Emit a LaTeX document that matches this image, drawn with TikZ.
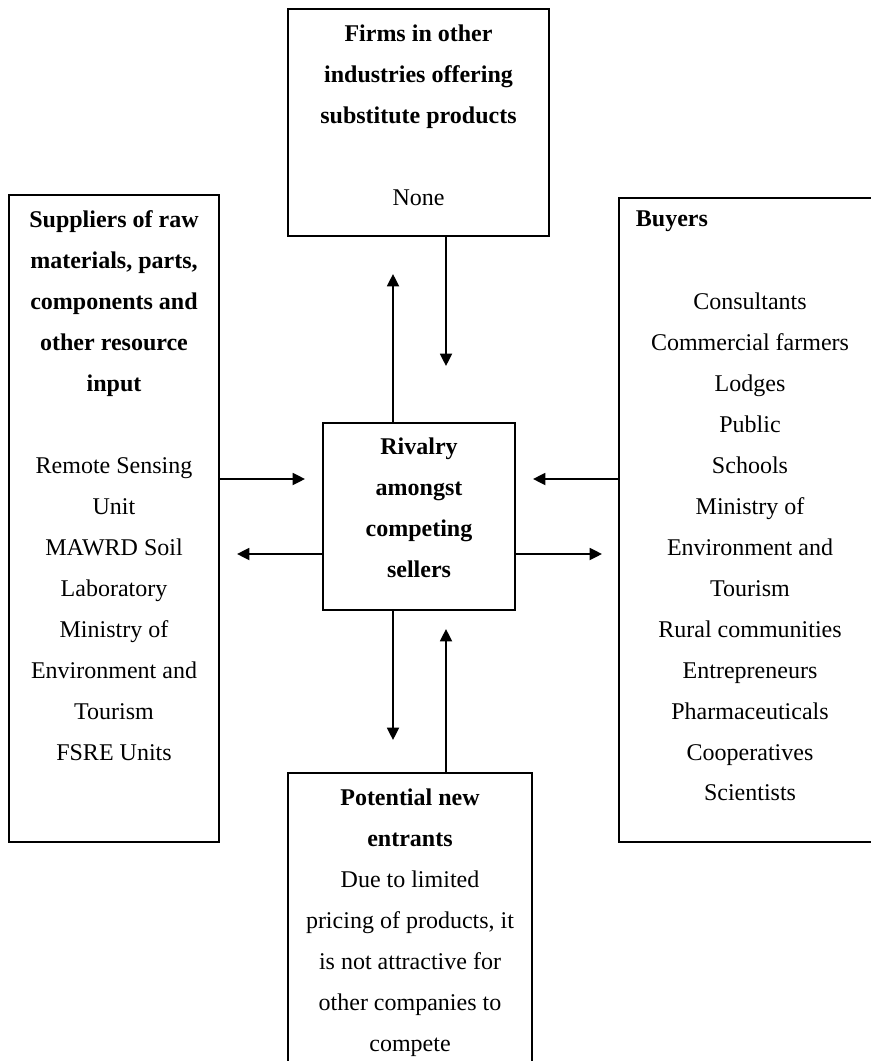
\documentclass[tikz,border=0pt]{standalone}
\usepackage{fontspec}
\setmainfont{Liberation Serif}
\usepackage{tikz}
\usetikzlibrary{arrows.meta,positioning}
\tikzset{>={Triangle[length=7pt,width=6.8pt]}}

\begin{document}
\begin{tikzpicture}[thick, node distance=3mm]
  % Styles
  \tikzset{
    box/.style={draw,line width=0.85pt,inner sep=0pt},
    txt/.style={inner sep=0pt,align=center,font=\fontsize{13.66}{23.3}\selectfont},
    arr/.style={->,line width=1.1pt}
  }
  \useasboundingbox (0,0) rectangle (17.4,-21.22);

  %================= BOXES =================
  \node[box,minimum width=5.22cm,minimum height=4.54cm]  (subst)  at ( 8.37,-2.45)  {};
  \node[box,minimum width=4.20cm,minimum height=12.94cm] (supp)   at ( 2.28,-10.37) {};
  \node[box,minimum width=3.84cm,minimum height=3.74cm]  (rival)  at ( 8.38,-10.33) {};
  \node[box,minimum width=5.24cm,minimum height=12.88cm] (buyers) at (15.00,-10.40) {};
  \node[box,minimum width=4.88cm,minimum height=6.94cm]  (entr)   at ( 8.20,-18.93) {};

  %================= TEXTS =================
  \node[txt,below=0.32cm of subst.north] (substtxt)
    {\textbf{Firms in other}\\\textbf{industries offering}\\\textbf{substitute products}\\[23.3pt]None};
  \node[txt,below=0.32cm of supp.north] (supptxt)
    {\textbf{Suppliers of raw}\\\textbf{materials, parts,}\\\textbf{components and}\\\textbf{other resource}\\\textbf{input}\\[23.3pt]
     Remote Sensing\\Unit\\MAWRD Soil\\Laboratory\\Ministry of\\Environment and\\Tourism\\FSRE Units};
  \node[txt,below=0.30cm of rival.north] (rivaltxt)
    {\textbf{Rivalry}\\\textbf{amongst}\\\textbf{competing}\\\textbf{sellers}};
  \node[txt,below right=0.26cm and 0.34cm of buyers.north west] (buyhead) {\textbf{Buyers}};
  \node[txt,below=1.90cm of buyers.north] (buylist)
    {Consultants\\Commercial farmers\\Lodges\\Public\\Schools\\Ministry of\\Environment and\\Tourism\\
     Rural communities\\Entrepreneurs\\Pharmaceuticals\\Cooperatives\\Scientists};
  \node[txt,below=0.32cm of entr.north] (entrtxt)
    {\textbf{Potential new}\\\textbf{entrants}\\Due to limited\\pricing of products, it\\is not attractive for\\other companies to\\compete};

  %================= ARROWS =================
  % free ends of the arrows
  \coordinate (tipUp)    at ( 7.86,-5.48);
  \coordinate (tipDown)  at ( 8.92,-7.32);
  \coordinate (tipSupp)  at ( 6.10,-9.58);
  \coordinate (tipLeft)  at ( 4.74,-11.08);
  \coordinate (tipBuy)   at (10.66,-9.58);
  \coordinate (tipRight) at (12.04,-11.08);
  \coordinate (tipBelow) at ( 7.86,-14.80);
  \coordinate (tipEntr)  at ( 8.92,-12.58);

  \draw[arr] (rival.north -| tipUp)   -- (tipUp);
  \draw[arr] (subst.south -| tipDown) -- (tipDown);
  \draw[arr] (supp.east |- tipSupp)   -- (tipSupp);
  \draw[arr] (rival.west |- tipLeft)  -- (tipLeft);
  \draw[arr] (buyers.west |- tipBuy)  -- (tipBuy);
  \draw[arr] (rival.east |- tipRight) -- (tipRight);
  \draw[arr] (rival.south -| tipBelow) -- (tipBelow);
  \draw[arr] (entr.north -| tipEntr)  -- (tipEntr);

\end{tikzpicture}
\end{document}
